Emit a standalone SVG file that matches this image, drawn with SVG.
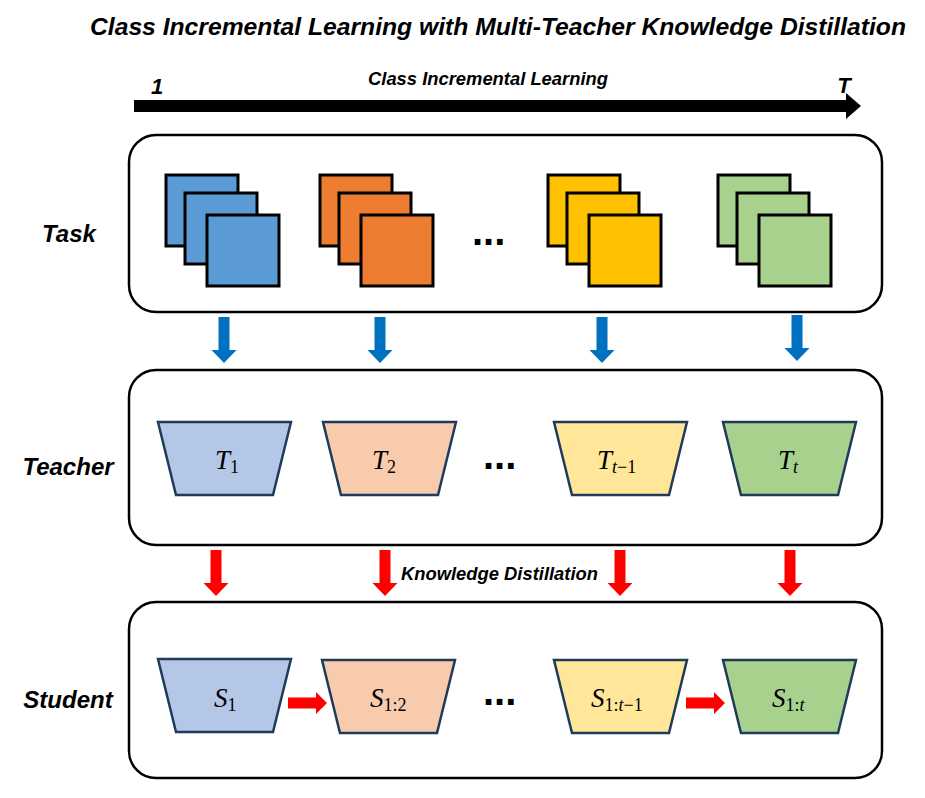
<svg xmlns="http://www.w3.org/2000/svg" width="925" height="798" viewBox="0 0 925 798">
  <style>
    .ttl { font-family: "Liberation Sans", Arial, sans-serif; font-weight: bold; font-style: italic; fill: #000; }
    .panel { fill: #fff; stroke: #000; stroke-width: 2.5; }
    .sq { stroke: #000; stroke-width: 3; }
    .net { stroke: #1F3B5C; stroke-width: 2.5; stroke-linejoin: miter; }
    .math { font-family: "Liberation Serif", "Times New Roman", serif; font-style: italic; font-size: 27px; fill: #000; }
    .sub { font-style: normal; font-size: 18px; }
    .subi { font-style: italic; font-size: 18px; }
    .dots { font-family: "Liberation Sans", Arial, sans-serif; font-weight: bold; font-size: 40px; fill: #000; }
    .blue { fill: #5B9BD5; } .orange { fill: #ED7D31; } .yellow { fill: #FFC000; } .green { fill: #A9D18E; }
    .lblue { fill: #B4C7E7; } .lorange { fill: #F8CBAD; } .lyellow { fill: #FFE699; } .lgreen { fill: #A9D18E; }
  </style>
  <defs>
    <path id="down" d="M-5.5,0 H5.5 V33 H12.5 L0,46 L-12.5,33 H-5.5 Z"/>
    <path id="right" d="M0,-5.5 H28 V-11 L39,0 L28,11 V5.5 H0 Z"/>
    <g id="stack">
      <rect x="0" y="0" width="72" height="71"/>
      <rect x="19" y="18" width="72" height="71"/>
      <rect x="41" y="40" width="72" height="71"/>
    </g>
    <path id="trap" d="M0,0 H133 L115,73 H18 Z"/>
  </defs>

  <!-- title and timeline -->
  <text class="ttl" x="90" y="35" font-size="24" textLength="816" lengthAdjust="spacingAndGlyphs">Class Incremental Learning with Multi-Teacher Knowledge Distillation</text>
  <g id="timeline">
    <path d="M134,100 H846 V93 L861,106 L846,119 V112 H134 Z" fill="#000"/>
    <text class="ttl" x="157" y="94" font-size="22" text-anchor="middle">1</text>
    <text class="ttl" x="844" y="93" font-size="22" text-anchor="middle">T</text>
    <text class="ttl" x="368" y="85" font-size="18" textLength="240" lengthAdjust="spacingAndGlyphs">Class Incremental Learning</text>
  </g>

  <!-- row labels -->
  <text class="ttl" x="69" y="242" font-size="24" text-anchor="middle">Task</text>
  <text class="ttl" x="68" y="475" font-size="24" text-anchor="middle">Teacher</text>
  <text class="ttl" x="68" y="708" font-size="24" text-anchor="middle">Student</text>

  <!-- panels -->
  <rect class="panel" x="129" y="135" width="753" height="177" rx="27"/>
  <rect class="panel" x="129" y="370" width="753" height="175" rx="27"/>
  <rect class="panel" x="129" y="602" width="753" height="176" rx="27"/>

  <!-- tasks -->
  <g id="task1" class="sq blue"><use href="#stack" x="166" y="175"/></g>
  <g id="task2" class="sq orange"><use href="#stack" x="320" y="175"/></g>
  <text class="dots" x="472" y="245">...</text>
  <g id="task3" class="sq yellow"><use href="#stack" x="548" y="175"/></g>
  <g id="task4" class="sq green"><use href="#stack" x="718" y="175"/></g>

  <!-- teachers -->
  <g id="teacher1">
    <use href="#trap" class="net lblue" x="158" y="422"/>
    <text class="math" x="215" y="469">T<tspan class="sub" dy="4">1</tspan></text>
  </g>
  <g id="teacher2">
    <use href="#trap" class="net lorange" x="323" y="422"/>
    <text class="math" x="372" y="469">T<tspan class="sub" dy="4">2</tspan></text>
  </g>
  <text class="dots" x="483" y="469">...</text>
  <g id="teacher3">
    <use href="#trap" class="net lyellow" x="554" y="422"/>
    <text class="math" x="597" y="469">T<tspan class="subi" dy="4">t</tspan><tspan class="sub">−1</tspan></text>
  </g>
  <g id="teacher4">
    <use href="#trap" class="net lgreen" x="723" y="422"/>
    <text class="math" x="778" y="469">T<tspan class="subi" dy="4">t</tspan></text>
  </g>

  <!-- students -->
  <g id="student1">
    <use href="#trap" class="net lblue" x="158" y="659"/>
    <text class="math" x="214" y="707">S<tspan class="sub" dy="4">1</tspan></text>
  </g>
  <g id="student2">
    <use href="#trap" class="net lorange" x="322" y="660"/>
    <text class="math" x="370" y="707">S<tspan class="sub" dy="4">1:2</tspan></text>
  </g>
  <text class="dots" x="483" y="705">...</text>
  <g id="student3">
    <use href="#trap" class="net lyellow" x="554" y="660"/>
    <text class="math" x="591" y="707">S<tspan class="sub" dy="4">1:</tspan><tspan class="subi">t</tspan><tspan class="sub">−1</tspan></text>
  </g>
  <g id="student4">
    <use href="#trap" class="net lgreen" x="723" y="660"/>
    <text class="math" x="772" y="707">S<tspan class="sub" dy="4">1:</tspan><tspan class="subi">t</tspan></text>
  </g>

  <!-- connectors -->
  <g id="connectors">
    <g fill="#0070C0">
      <use href="#down" x="224" y="317"/>
      <use href="#down" x="380" y="317"/>
      <use href="#down" x="602" y="317"/>
      <use href="#down" x="797" y="315"/>
    </g>
    <g fill="#FF0000">
      <use href="#down" x="216" y="550"/>
      <use href="#down" x="385" y="550"/>
      <use href="#down" x="620" y="550"/>
      <use href="#down" x="790" y="550"/>
      <use href="#right" x="288" y="703"/>
      <use href="#right" x="686" y="703"/>
    </g>
    <text class="ttl" x="401" y="580" font-size="18" textLength="197" lengthAdjust="spacingAndGlyphs">Knowledge Distillation</text>
  </g>
</svg>
